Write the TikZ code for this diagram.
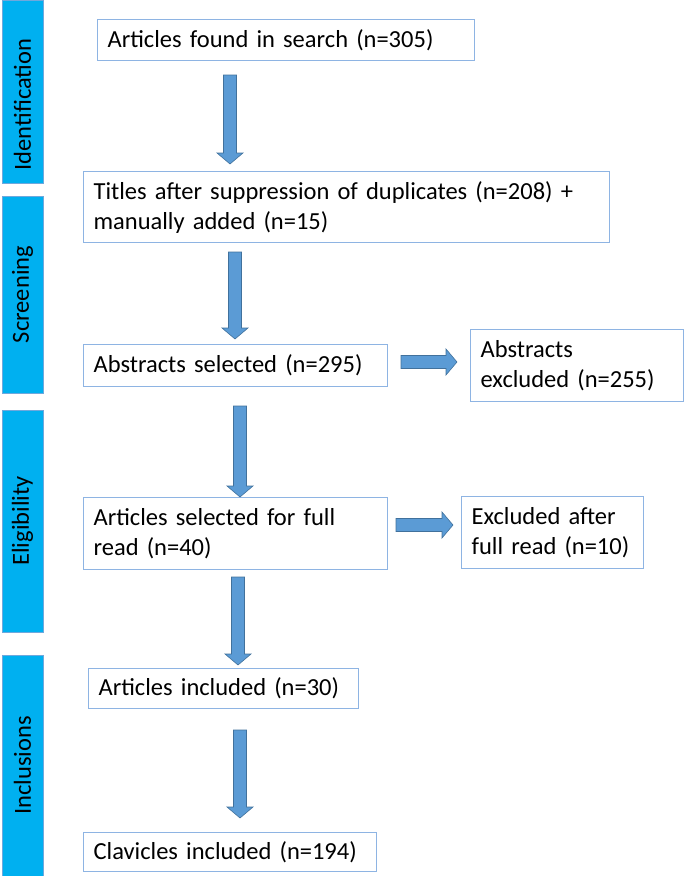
\documentclass[tikz,border=0pt]{standalone}
\usepackage{fontspec}
\setmainfont{Carlito}
\usetikzlibrary{calc}
\definecolor{barblue}{HTML}{00B0F0}
\definecolor{barline}{HTML}{6FA8DC}
\definecolor{boxline}{HTML}{8EB4E3}
\definecolor{arrowfill}{HTML}{5B9BD5}
\definecolor{arrowline}{HTML}{41719C}
\tikzstyle{phase} = [rectangle, rotate=90, fill=barblue, draw=barline, line width=0.8pt, minimum height=41pt, inner sep=0pt]
\tikzstyle{box} = [rectangle, anchor=north west, draw=boxline, line width=1.2pt, align=left, inner xsep=10pt, inner ysep=4pt]
\tikzstyle{fat} = [fill=arrowfill, draw=arrowline, line width=0.6pt, line join=miter]
% block arrow from #1 to #2
\newcommand{\fatarrow}[2]{%
  \coordinate (hb) at ($(#2)!11pt!(#1)$);
  \draw[fat] ($(#1)!6.5pt!90:(#2)$) -- ($(hb)!6.5pt!90:(#2)$) -- ($(hb)!13pt!90:(#2)$) -- (#2)
    -- ($(hb)!13pt!-90:(#2)$) -- ($(hb)!6.5pt!-90:(#2)$) -- ($(#1)!6.5pt!-90:(#2)$) -- cycle;}

\begin{document}
\begin{tikzpicture}[x=1pt, y=-1pt, font=\fontsize{24.5}{30}\selectfont]
\useasboundingbox (0,0) rectangle (685,876);
%phases on the left
\node[phase, minimum width=183pt](ident) at (22.5,91.5) {Identification\hspace*{26pt}};
\node[phase, minimum width=197pt](screen) at (22.5,294.5) {Screening};
\node[phase, minimum width=222pt](elig) at (22.5,521) {Eligibility};
\node[phase, minimum width=221pt](inclu) at (22.5,765.5) {Inclusions};
%boxes
\node[box, minimum height=41pt, text width=357pt](found) at (97,19) {Articles found in search (n=305)};
\node[box, minimum height=71pt, text width=506pt](titles) at (83,171) {Titles after suppression of duplicates (n=208) +\\manually added (n=15)};
\node[box, minimum height=42pt, text width=284pt](abs) at (83,344) {Abstracts selected (n=295)};
\node[box, minimum height=72pt, text width=193pt](absex) at (470,329) {Abstracts\\excluded (n=255)};
\node[box, minimum height=72pt, text width=284pt](full) at (83,497) {Articles selected for full\\read (n=40)};
\node[box, minimum height=72pt, text width=162pt](fullex) at (461,496) {Excluded after\\full read (n=10)};
\node[box, minimum height=40pt, text width=250pt](incl) at (88,668) {Articles included (n=30)};
\node[box, minimum height=39pt, text width=273pt](clav) at (83,832) {Clavicles included (n=194)};
%arrow ends
\coordinate (a1s) at (230,75);  \coordinate (a1e) at (230,164);
\coordinate (a2s) at (235,252); \coordinate (a2e) at (235,339);
\coordinate (a3s) at (240,406); \coordinate (a3e) at (240,497);
\coordinate (a4s) at (238,577); \coordinate (a4e) at (238,665);
\coordinate (a5s) at (240,730); \coordinate (a5e) at (240,818);
\coordinate (h1s) at (401,362); \coordinate (h1e) at (457,362);
\coordinate (h2s) at (396,525); \coordinate (h2e) at (453,525);
%arrows
\fatarrow{a1s}{a1e}
\fatarrow{a2s}{a2e}
\fatarrow{a3s}{a3e}
\fatarrow{a4s}{a4e}
\fatarrow{a5s}{a5e}
\fatarrow{h1s}{h1e}
\fatarrow{h2s}{h2e}
\end{tikzpicture}
\end{document}
